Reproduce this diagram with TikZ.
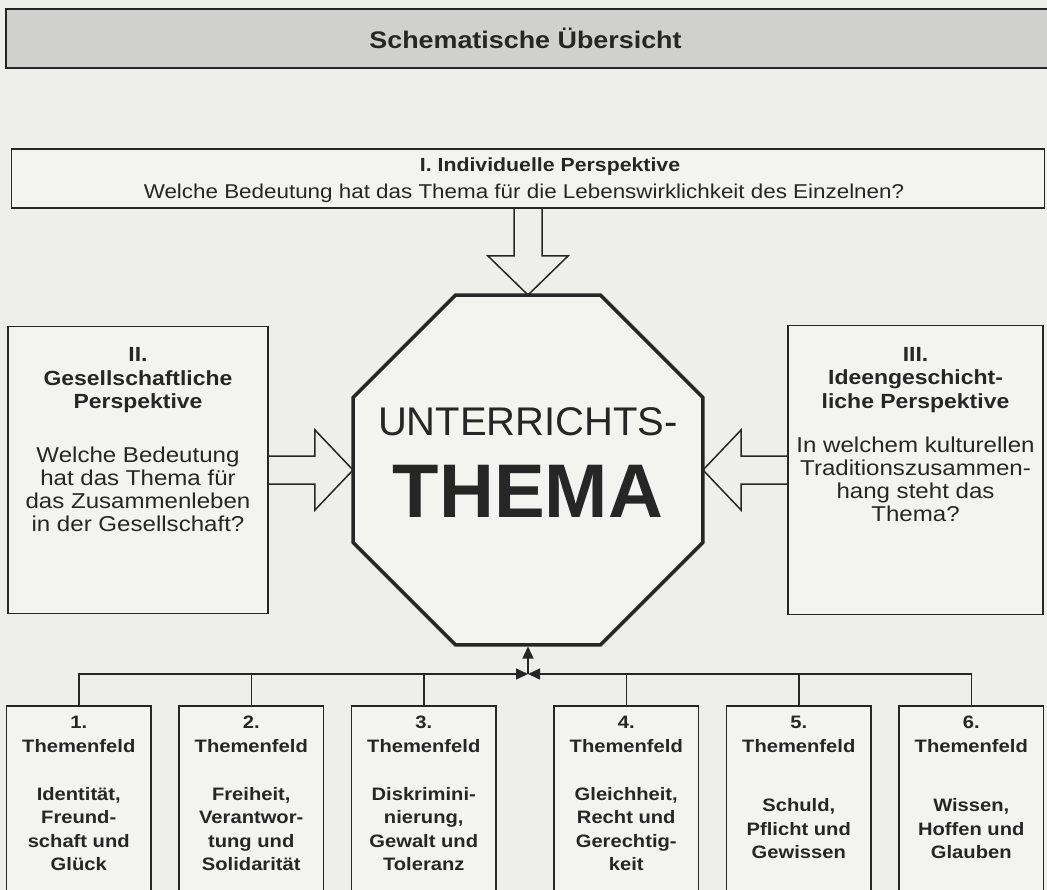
\documentclass[tikz,border=0pt]{standalone}
\usepackage{fontspec}
\setmainfont{Liberation Sans}[FakeStretch=1.12]
\newfontfamily\themafont{Liberation Sans}
\usetikzlibrary{calc, positioning, shapes.geometric, arrows.meta}

\definecolor{paper}{HTML}{EEEEEA}
\definecolor{boxfill}{HTML}{F3F3EF}
\definecolor{headfill}{HTML}{D0D0CE}
\definecolor{ink}{HTML}{262626}

\tikzset{
  persp/.style={draw=ink, line width=1.6pt, fill=boxfill, inner sep=0pt, outer sep=0pt},
  feld/.style={persp, minimum width=144.5pt, minimum height=190pt},
  txt/.style={text=ink, align=center, inner sep=0pt},
  title/.style={txt, font=\fontsize{24}{28}\selectfont\bfseries},
  heading/.style={txt, font=\fontsize{20.5}{23.5}\selectfont\bfseries},
  question/.style={txt, font=\fontsize{21.5}{23}\selectfont},
  feldtext/.style={txt, font=\fontsize{18}{23.5}\selectfont\bfseries},
  hollow/.style={draw=ink, line width=1.5pt, line join=miter},
  link/.style={draw=ink, line width=1.5pt},
  tip/.style={-{Triangle[length=12pt,width=11pt]}},
}

\begin{document}
\begin{tikzpicture}[x=1pt, y=-1pt, node distance=28pt]
  % canvas %
  \path[fill=paper, use as bounding box] (0,0) rectangle (1047,890);

  % nodes %
  \node[draw=ink, line width=1.8pt, fill=headfill, minimum width=1060pt, minimum height=59pt,
        anchor=north west] (head) at (5,8) {};
  \node[title] (headtext) at (525.5,38) {Schematische Übersicht};

  \node[draw=ink, line width=3.5pt, fill=boxfill, regular polygon, regular polygon sides=8,
        minimum size=378.8pt, inner sep=0pt, outer sep=0pt] (oct) at (528,470) {};
  \node[txt, font=\themafont\fontsize{40}{44}\selectfont] (unterricht) at ($(oct.center)+(0,-48)$) {UNTERRICHTS-};
  \node[txt, font=\themafont\fontsize{76}{80}\selectfont\bfseries] (thema) at ($(oct.center)+(0,21)$) {THEMA};

  \node[persp, minimum width=1033pt, minimum height=59pt, above=87pt of oct] (pI) {};
  \node[heading, font=\fontsize{19}{23}\selectfont\bfseries] at ($(pI.north)+(22,18)$) {I. Individuelle Perspektive};
  \node[question, font=\fontsize{20}{23}\selectfont] at ($(pI.north)+(-4,44)$)
    {Welche Bedeutung hat das Thema für die Lebenswirklichkeit des Einzelnen?};

  \node[persp, minimum width=260pt, minimum height=287pt, left=85pt of oct] (pII) {};
  \node[heading] at ($(pII.north)+(0,54)$) {II.\\Gesellschaftliche\\Perspektive};
  \node[question] at ($(pII.north)+(0,163)$) {Welche Bedeutung\\hat das Thema für\\das Zusammenleben\\in der Gesellschaft?};

  \node[persp, minimum width=255pt, minimum height=289pt, right=85pt of oct] (pIII) {};
  \node[heading] at ($(pIII.north)+(0,54.5)$) {III.\\Ideengeschicht-\\liche Perspektive};
  \node[question] at ($(pIII.north)+(0,154)$) {In welchem kulturellen\\Traditionszusammen-\\hang steht das\\Thema?};

  \node[feld] (t1) at (78.75,801) {};
  \node[feld, right=of t1] (t2) {};
  \node[feld, right=of t2] (t3) {};
  \node[feld, right=58pt of t3] (t4) {};
  \node[feld, right=of t4] (t5) {};
  \node[feld, right=of t5] (t6) {};

  \foreach \k/\topic in {1/{Identität,\\Freund-\\schaft und\\Glück},
                         2/{Freiheit,\\Verantwor-\\tung und\\Solidarität},
                         3/{Diskrimini-\\nierung,\\Gewalt und\\Toleranz},
                         4/{Gleichheit,\\Recht und\\Gerechtig-\\keit},
                         5/{Schuld,\\Pflicht und\\Gewissen},
                         6/{Wissen,\\Hoffen und\\Glauben}} {
    \node[feldtext] at ($(t\k.north)+(0,28.5)$) {\k.\\Themenfeld};
    \node[feldtext] at ($(t\k.north)+(0,123)$) {\topic};
  }

  % edges %
  \draw[hollow] (oct.north |- pI.south) ++(-14,0) -- ++(0,48) -- ++(-26,0) -- (oct.north)
    -- ++(40,-39) -- ++(-26,0) -- ++(0,-48);
  \draw[hollow] (pII.east |- oct.west) ++(0,-14) -- ++(47,0) -- ++(0,-26) -- (oct.west)
    -- ++(-38,40) -- ++(0,-26) -- ++(-47,0);
  \draw[hollow] (pIII.west |- oct.east) ++(0,-14) -- ++(-47,0) -- ++(0,-26) -- (oct.east)
    -- ++(38,40) -- ++(0,-26) -- ++(47,0);

  \coordinate (hub) at ($(oct.south)+(0,29)$);
  \draw[link, tip] (t1.north) |- (hub);
  \draw[link, tip] (t6.north) |- (hub);
  \draw[link, tip] (hub) -- ($(oct.south)+(0,1.5)$);
  \foreach \k in {2,...,5}
    \draw[link] (t\k.north) -- (t\k.north |- hub);

\end{tikzpicture}
\end{document}
